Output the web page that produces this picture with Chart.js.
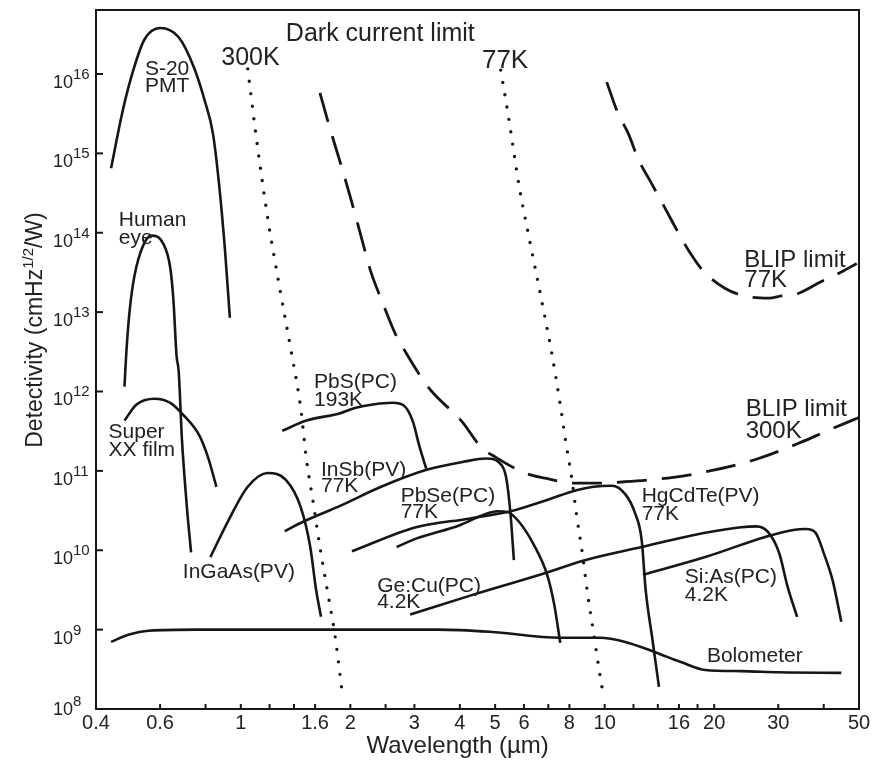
<!DOCTYPE html>
<html>
<head>
<meta charset="utf-8">
<script src="https://cdn.jsdelivr.net/npm/chart.js@4"></script>
<style>
  html, body { margin: 0; padding: 0; background: #fff; }
  #wrap { width: 888px; height: 764px; }
</style>
</head>
<body>
<div id="wrap"><canvas id="detectivity-chart"></canvas></div>
<script>
// wavelength in um, detectivity D* in cm Hz^1/2 / W
const xTicks = [0.4, 0.6, 0.8, 1, 1.2, 1.4, 1.6, 2, 2.5, 3, 4, 5, 6, 7, 8, 10, 12, 14, 16, 18, 20, 30, 40, 50];
const xTickLabels = ['0.4', '0.6', '', '1', '', '', '1.6', '2', '', '3', '4', '5', '6', '', '8', '10', '', '', '16', '', '20', '30', '', '50'];
const yTickExponents = [8, 9, 10, 11, 12, 13, 14, 15, 16];

const pmtWavelength = [0.440, 0.474, 0.506, 0.543, 0.600, 0.675, 0.744, 0.795, 0.838, 0.871, 0.905, 0.933];
const pmtDetectivity = [6.5e14, 3.5e15, 1.1e16, 2.7e16, 3.8e16, 2.9e16, 1.2e16, 4.7e15, 1.8e15, 4.2e14, 6.0e13, 8.5e12];

const eyeWavelength = [0.479, 0.484, 0.493, 0.506, 0.529, 0.568, 0.612, 0.640, 0.653, 0.666, 0.675, 0.689, 0.711, 0.730];
const eyeDetectivity = [1.15e12, 2.8e12, 8.7e12, 2.3e13, 5.5e13, 9.2e13, 7.3e13, 3.6e13, 1.4e13, 2.8e12, 1.8e12, 2.5e11, 3.5e10, 9.4e9];

const filmWavelength = [0.479, 0.516, 0.579, 0.640, 0.697, 0.769, 0.812, 0.857];
const filmDetectivity = [4.3e11, 6.8e11, 8.1e11, 7.2e11, 5.0e11, 2.8e11, 1.5e11, 6.3e10];

const ingaasWavelength = [0.825, 0.926, 1.045, 1.185, 1.33, 1.461, 1.552, 1.61, 1.661];
const ingaasDetectivity = [8.2e9, 2.4e10, 6.3e10, 9.4e10, 7.7e10, 3.5e10, 1.1e10, 3.2e9, 1.45e9];

const pbsWavelength = [1.30, 1.515, 1.868, 2.06, 2.284, 2.61, 2.81, 2.97, 3.10, 3.24];
const pbsDetectivity = [3.2e11, 4.3e11, 5.3e11, 6.2e11, 6.8e11, 7.2e11, 6.6e11, 4.2e11, 2.0e11, 1.03e11];

const insbWavelength = [1.32, 1.488, 1.868, 2.43, 3.24, 4.09, 4.73, 5.14, 5.36, 5.51, 5.63];
const insbDetectivity = [1.74e10, 2.3e10, 3.6e10, 6.3e10, 1.03e11, 1.3e11, 1.43e11, 1.26e11, 8.3e10, 2.9e10, 7.5e9];

const pbseWavelength = [2.68, 3.03, 4.0, 4.65, 5.07, 5.44, 5.83, 6.35, 6.95, 7.27, 7.55];
const pbseDetectivity = [1.1e10, 1.4e10, 2.07e10, 2.8e10, 3.1e10, 3.0e10, 2.25e10, 1.23e10, 4.9e9, 2.05e9, 6.8e8];

const hgcdteWavelength = [2.02, 3.03, 4.23, 5.51, 6.95, 8.36, 9.32, 10.47, 11.39, 12.1, 12.64, 12.96, 13.53, 14.1];
const hgcdteDetectivity = [9.7e9, 1.95e10, 2.5e10, 3.1e10, 4.3e10, 5.7e10, 6.3e10, 6.5e10, 5.1e10, 3.0e10, 1.34e10, 3.2e9, 7.5e8, 1.9e8];

const gecuWavelength = [2.92, 4.40, 6.81, 8.82, 12.64, 18.9, 23.7, 26.1, 28.1, 30.2, 31.8, 33.8];
const gecuDetectivity = [1.55e9, 2.8e9, 5.1e9, 7.5e9, 1.1e10, 1.66e10, 1.95e10, 2.0e10, 1.7e10, 9.1e9, 3.5e9, 1.45e9];

const siasWavelength = [12.74, 18.9, 27.5, 33.0, 35.7, 38.0, 40.0, 42.3, 44.7];
const siasDetectivity = [4.9e9, 8.2e9, 1.46e10, 1.8e10, 1.85e10, 1.66e10, 9.2e9, 4.2e9, 1.26e9];

const bolometerWavelength = [0.440, 0.491, 0.559, 0.759, 3.49, 4.84, 7.55, 9.68, 11.39, 13.76, 16.2, 18.9, 23.7, 30.2, 44.7];
const bolometerDetectivity = [7.0e8, 8.6e8, 9.7e8, 1.0e9, 1.0e9, 9.4e8, 7.9e8, 7.9e8, 7.0e8, 5.2e8, 3.9e8, 3.1e8, 3.0e8, 2.9e8, 2.85e8];

const dark300Wavelength = [1.045, 1.099, 1.185, 1.282, 1.379, 1.461, 1.515, 1.581, 1.65, 1.734, 1.81, 1.90];
const dark300Detectivity = [1.16e16, 1.8e15, 1.55e14, 1.9e13, 3.0e12, 6.2e11, 1.4e11, 4.0e10, 1.1e10, 2.9e9, 9.2e8, 1.6e8];

const dark77Wavelength = [5.18, 5.44, 5.83, 6.30, 6.85, 7.14, 7.55, 7.80, 8.13, 8.36, 8.68, 8.97, 9.32, 9.68, 9.89];
const dark77Detectivity = [1.12e16, 2.9e15, 3.7e14, 6.0e13, 8.7e12, 3.2e12, 6.8e11, 2.5e11, 7.7e10, 2.9e10, 9.2e9, 2.9e9, 9.2e8, 2.9e8, 1.6e8];

const blip300Wavelength = [1.65, 1.756, 1.868, 1.988, 2.11, 2.284, 2.44, 2.65, 2.83, 3.29, 4.05, 4.57, 5.0, 6.04, 6.85, 8.22, 9.32, 11.39, 15.45, 18.9, 26.1, 34.7, 40.9, 50];
const blip300Detectivity = [5.8e15, 2.1e15, 8.2e14, 3.1e14, 1.15e14, 3.1e13, 1.4e13, 5.5e12, 3.2e12, 1.1e12, 4.2e11, 2.0e11, 1.5e11, 9.4e10, 8.1e10, 7.0e10, 7.0e10, 7.3e10, 8.3e10, 9.7e10, 1.4e11, 2.3e11, 3.2e11, 4.7e11];

const blip77Wavelength = [10.13, 10.88, 11.6, 12.42, 13.3, 14.6, 16.0, 17.2, 18.6, 21.4, 24.2, 28.3, 30.6, 33.8, 39.2, 44.7, 49.3];
const blip77Detectivity = [7.9e15, 3.2e15, 1.8e15, 8.1e14, 4.6e14, 2.1e14, 9.7e13, 5.5e13, 3.35e13, 2.0e13, 1.6e13, 1.5e13, 1.6e13, 1.7e13, 2.4e13, 3.2e13, 4.1e13];

// text placed in the plot, anchored at the baseline of the first line (data coords)
const curveLabels = [
  { lines: ['S-20', 'PMT'], x: 0.545, y: 9.7e15, size: 21, lh: 17 },
  { lines: ['Human', 'eye'], x: 0.462, y: 1.2e14, size: 21, lh: 18 },
  { lines: ['Super', 'XX film'], x: 0.433, y: 2.6e11, size: 21, lh: 18 },
  { lines: ['InGaAs(PV)'], x: 0.693, y: 4.5e9, size: 21, lh: 18 },
  { lines: ['PbS(PC)', '193K'], x: 1.59, y: 1.1e12, size: 21, lh: 18 },
  { lines: ['InSb(PV)', '77K'], x: 1.661, y: 8.7e10, size: 21, lh: 16 },
  { lines: ['PbSe(PC)', '77K'], x: 2.75, y: 4.0e10, size: 21, lh: 16 },
  { lines: ['Ge:Cu(PC)', '4.2K'], x: 2.37, y: 3.0e9, size: 21, lh: 16 },
  { lines: ['HgCdTe(PV)', '77K'], x: 12.64, y: 4.0e10, size: 21, lh: 18 },
  { lines: ['Si:As(PC)', '4.2K'], x: 16.6, y: 3.9e9, size: 21, lh: 18 },
  { lines: ['Bolometer'], x: 19.1, y: 3.9e8, size: 21, lh: 18 },
  { lines: ['Dark current limit'], x: 1.33, y: 2.6e16, size: 25, lh: 22 },
  { lines: ['300K'], x: 0.884, y: 1.3e16, size: 25, lh: 22 },
  { lines: ['77K'], x: 4.60, y: 1.2e16, size: 26, lh: 22 },
  { lines: ['BLIP limit', '77K'], x: 24.2, y: 3.7e13, size: 24, lh: 20 },
  { lines: ['BLIP limit', '300K'], x: 24.4, y: 4.9e11, size: 24, lh: 22 }
];

const FONT = '"Liberation Sans", Arial, Helvetica, sans-serif';
const INK = '#161616';

function curve(label, xs, ys, style) {
  return Object.assign({
    label,
    data: xs.map((x, i) => ({ x, y: ys[i] })),
    borderColor: INK,
    borderWidth: 2.6,
    pointRadius: 0,
    fill: false,
    cubicInterpolationMode: 'monotone'
  }, style);
}

const dotted = { borderDash: [0, 12.5], borderCapStyle: 'round', borderWidth: 3.4 };
const dashed = { borderDash: [30, 15], borderWidth: 2.8 };

const decorations = {
  id: 'decorations',
  afterDraw(chart) {
    const { ctx, chartArea: a, scales: { x, y } } = chart;
    ctx.save();
    ctx.strokeStyle = INK;
    ctx.fillStyle = '#222';
    ctx.lineWidth = 2;
    ctx.strokeRect(a.left, a.top, a.right - a.left, a.bottom - a.top);

    // inward tick marks
    xTicks.forEach(v => {
      const px = x.getPixelForValue(v);
      ctx.beginPath();
      ctx.moveTo(px, a.bottom);
      ctx.lineTo(px, a.bottom - 5);
      ctx.stroke();
    });
    yTickExponents.forEach(e => {
      const py = y.getPixelForValue(Math.pow(10, e));
      ctx.beginPath();
      ctx.moveTo(a.left, py);
      ctx.lineTo(a.left + 7, py);
      ctx.stroke();
    });

    // y tick labels 10^n, the lowest one sits a bit higher to clear the x labels
    ctx.textBaseline = 'alphabetic';
    ctx.textAlign = 'left';
    yTickExponents.forEach((e, i) => {
      const py = y.getPixelForValue(Math.pow(10, e)) - (i === 0 ? 8 : 0);
      ctx.font = '18px ' + FONT;
      ctx.fillText('10', a.left - 43, py + 14);
      const bw = ctx.measureText('10').width;
      ctx.font = '15px ' + FONT;
      ctx.fillText(String(e), a.left - 43 + bw, py + 5);
    });

    // axis titles
    ctx.textAlign = 'center';
    ctx.font = '24px ' + FONT;
    ctx.fillText('Wavelength (\u00b5m)', a.left + 0.474 * (a.right - a.left), 753);

    const big = '23px ' + FONT, sup = '15px ' + FONT;
    const parts = [['Detectivity (cmHz', big, 0], ['1/2', sup, -9], ['/W)', big, 0]];
    let total = 0;
    parts.forEach(p => { ctx.font = p[1]; total += ctx.measureText(p[0]).width; });
    ctx.translate(42, 330);
    ctx.rotate(-Math.PI / 2);
    ctx.textAlign = 'left';
    let cx = -total / 2;
    parts.forEach(p => {
      ctx.font = p[1];
      ctx.fillText(p[0], cx, p[2]);
      cx += ctx.measureText(p[0]).width;
    });
    ctx.setTransform(1, 0, 0, 1, 0, 0);

    // curve labels
    ctx.textAlign = 'left';
    curveLabels.forEach(l => {
      ctx.font = l.size + 'px ' + FONT;
      const px = x.getPixelForValue(l.x);
      const py = y.getPixelForValue(l.y);
      l.lines.forEach((t, i) => ctx.fillText(t, px, py + i * l.lh));
    });
    ctx.restore();
  }
};

new Chart(document.getElementById('detectivity-chart'), {
  type: 'line',
  data: {
    datasets: [
      curve('S-20 PMT', pmtWavelength, pmtDetectivity),
      curve('Human eye', eyeWavelength, eyeDetectivity),
      curve('Super XX film', filmWavelength, filmDetectivity),
      curve('InGaAs(PV)', ingaasWavelength, ingaasDetectivity),
      curve('PbS(PC) 193K', pbsWavelength, pbsDetectivity),
      curve('InSb(PV) 77K', insbWavelength, insbDetectivity),
      curve('PbSe(PC) 77K', pbseWavelength, pbseDetectivity),
      curve('HgCdTe(PV) 77K', hgcdteWavelength, hgcdteDetectivity),
      curve('Ge:Cu(PC) 4.2K', gecuWavelength, gecuDetectivity),
      curve('Si:As(PC) 4.2K', siasWavelength, siasDetectivity),
      curve('Bolometer', bolometerWavelength, bolometerDetectivity),
      curve('Dark current limit 300K', dark300Wavelength, dark300Detectivity, dotted),
      curve('Dark current limit 77K', dark77Wavelength, dark77Detectivity, dotted),
      curve('BLIP limit 300K', blip300Wavelength, blip300Detectivity, dashed),
      curve('BLIP limit 77K', blip77Wavelength, blip77Detectivity, dashed)
    ]
  },
  options: {
    responsive: true,
    maintainAspectRatio: false,
    animation: false,
    layout: { padding: { left: 0, right: 29, top: 10, bottom: 0 } },
    plugins: { legend: { display: false }, tooltip: { enabled: false } },
    scales: {
      x: {
        type: 'logarithmic',
        min: 0.4,
        max: 50,
        afterBuildTicks: scale => { scale.ticks = xTicks.map(value => ({ value })); },
        afterFit: scale => { scale.height = 55; },
        grid: { display: false, drawTicks: false },
        border: { display: false },
        ticks: {
          autoSkip: false,
          maxRotation: 0,
          minRotation: 0,
          padding: 2,
          color: '#222',
          font: { family: FONT, size: 20 },
          callback: (value, index) => xTickLabels[index]
        }
      },
      y: {
        type: 'logarithmic',
        min: 1e8,
        max: 6.4e16,
        afterFit: scale => { scale.width = 96; },
        grid: { display: false, drawTicks: false },
        border: { display: false },
        ticks: { display: false }
      }
    }
  },
  plugins: [decorations]
});
</script>
</body>
</html>
